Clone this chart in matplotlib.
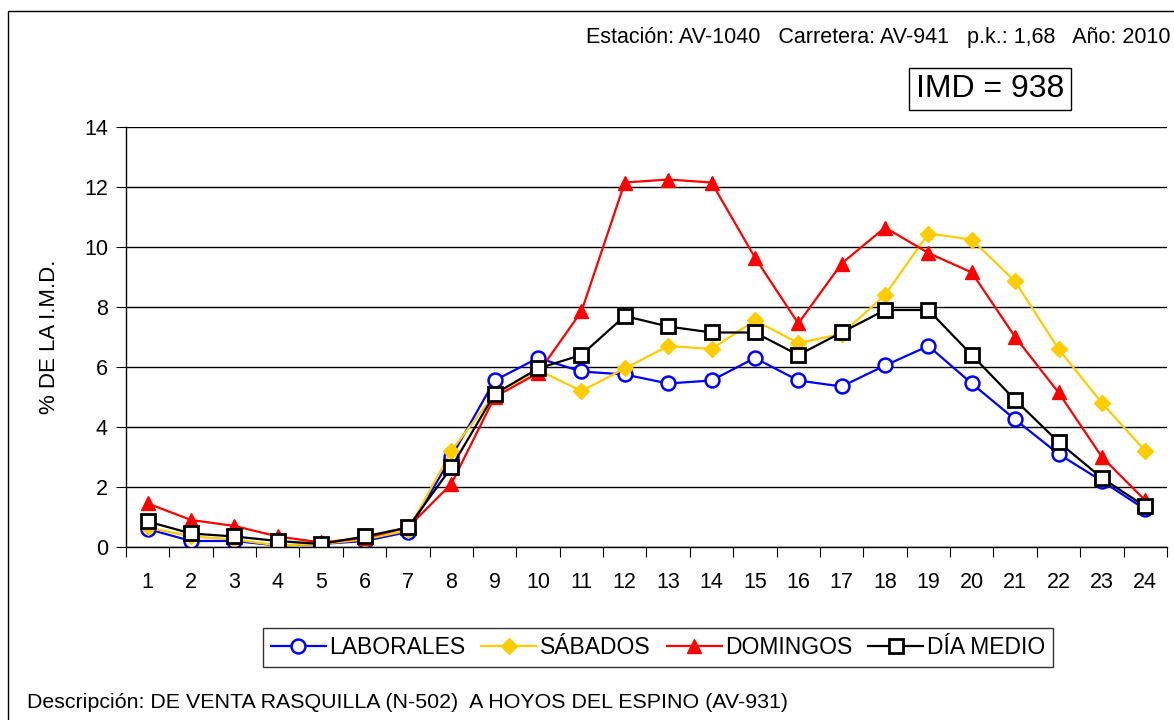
import numpy as np
import matplotlib.pyplot as plt
from matplotlib.patches import Rectangle

plt.rcParams['font.family'] = ['Liberation Sans', 'DejaVu Sans']

horas = list(range(1, 25))
laborales = [0.6, 0.2, 0.2, 0.05, 0.1, 0.2, 0.5, 3.0, 5.55, 6.3, 5.85, 5.75,
             5.45, 5.55, 6.3, 5.55, 5.35, 6.05, 6.7, 5.45, 4.25, 3.1, 2.2, 1.25]
sabados = [0.65, 0.35, 0.25, 0.05, 0.1, 0.25, 0.55, 3.2, 5.1, 5.9, 5.2, 5.95,
           6.7, 6.6, 7.55, 6.8, 7.1, 8.4, 10.45, 10.25, 8.85, 6.6, 4.8, 3.2]
domingos = [1.45, 0.9, 0.7, 0.35, 0.15, 0.3, 0.65, 2.1, 5.0, 5.8, 7.85, 12.15,
            12.25, 12.15, 9.65, 7.45, 9.45, 10.65, 9.8, 9.15, 7.0, 5.15, 3.0, 1.55]
dia_medio = [0.85, 0.45, 0.35, 0.2, 0.1, 0.35, 0.65, 2.65, 5.1, 5.95, 6.4, 7.7,
             7.35, 7.15, 7.15, 6.4, 7.15, 7.9, 7.9, 6.4, 4.9, 3.5, 2.3, 1.35]

fig = plt.figure(figsize=(11.74, 7.2), dpi=100)
ax = fig.add_axes([0.1073, 0.2403, 0.8867, 0.5833])

ax.plot(horas, laborales, color="#0000ff", linewidth=1.6, marker="o", markersize=10,
        markerfacecolor="white", markeredgecolor="#0000ff", markeredgewidth=1.8, label="LABORALES")
ax.plot(horas, sabados, color="#ffcc00", linewidth=1.6, marker="D", markersize=8,
        markerfacecolor="#ffcc00", markeredgecolor="#ffcc00", label="SÁBADOS")
ax.plot(horas, domingos, color="#ff0000", linewidth=1.6, marker="^", markersize=10,
        markerfacecolor="#ff0000", markeredgecolor="#ff0000", label="DOMINGOS")
ax.plot(horas, dia_medio, color="black", linewidth=1.6, marker="s", markersize=10,
        markerfacecolor="white", markeredgecolor="black", markeredgewidth=2, label="DÍA MEDIO")

ax.set_xlim(0.5, 24.5)
ax.set_ylim(0, 14)
ax.set_yticks(np.arange(0, 15, 2))
ax.yaxis.grid(True, color="black", linewidth=1)
ax.set_axisbelow(True)

# marcas entre categorias, etiquetas centradas
ax.set_xticks(np.arange(0.5, 25, 1))
ax.set_xticklabels([])
ax.set_xticks(horas, minor=True)
ax.set_xticklabels([str(h) for h in horas], minor=True, fontsize=15.5)
ax.tick_params(axis="x", which="minor", length=0, pad=18)
ax.tick_params(axis="x", which="major", length=7, direction="out")
ax.tick_params(axis="y", length=7, direction="out", labelsize=15.5, pad=6)

for s in ["top", "right"]:
    ax.spines[s].set_visible(False)
ax.spines["left"].set_linewidth(1)
ax.spines["bottom"].set_linewidth(1)

ax.set_ylabel("% DE LA I.M.D.", fontsize=16, labelpad=17)

leg = ax.legend(loc="upper center", bbox_to_anchor=(0.511, -0.193), ncol=4, fontsize=16.5,
                frameon=True, fancybox=False, edgecolor="black", handlelength=2.4,
                handletextpad=0.15, columnspacing=0.7, borderpad=0.35, borderaxespad=0)
leg.get_frame().set_linewidth(1)

fig.text(1170 / 1174, 1 - 37 / 720, "Estación: AV-1040   Carretera: AV-941   p.k.: 1,68   Año: 2010",
         ha="right", va="center", fontsize=15.5)
fig.text(990 / 1174, 1 - 89 / 720, "IMD = 938", ha="center", va="center", fontsize=23,
         bbox=dict(boxstyle="square,pad=0.2", facecolor="white", edgecolor="black", linewidth=1))
fig.text(27 / 1174, 1 - 703 / 720, "Descripción: DE VENTA RASQUILLA (N-502)  A HOYOS DEL ESPINO (AV-931)",
         ha="left", va="center", fontsize=15.4)

fig.patches.append(Rectangle((8 / 1174, -0.1), 1.2, 1.1 - 11 / 720, transform=fig.transFigure,
                             fill=False, edgecolor="black", linewidth=1))

plt.savefig("out.png", dpi=100)
